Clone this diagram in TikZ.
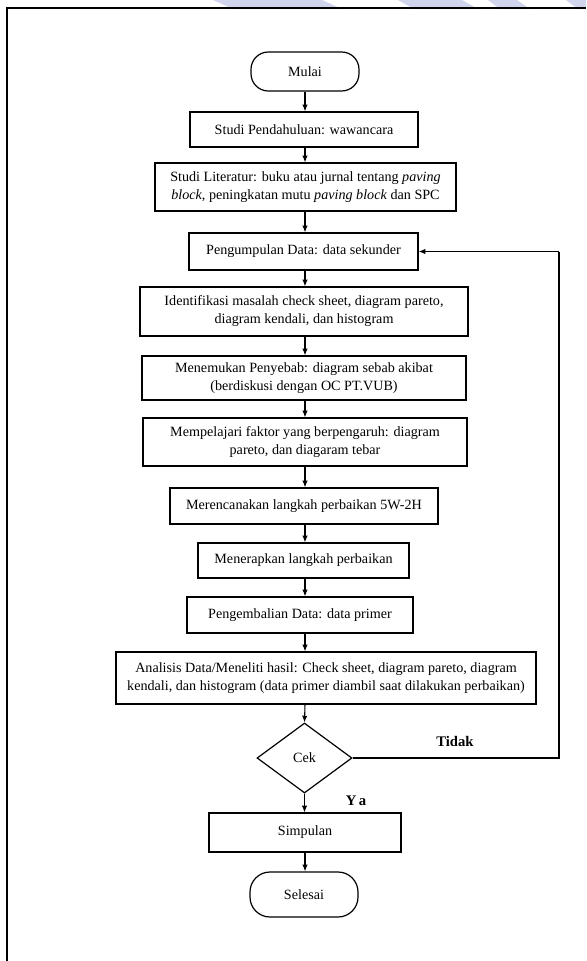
\documentclass[tikz,border=0pt]{standalone}
\usepackage{fontspec}
\setmainfont{Liberation Serif}
\usetikzlibrary{arrows.meta,shapes.geometric,calc}
\definecolor{wm}{RGB}{208,212,236}
\tikzset{
  box/.style={draw, line width=0.9pt, inner sep=0pt, align=center,
    font=\fontsize{10.6}{13.5}\selectfont},
  term/.style={box, rounded corners=13pt},
  decision/.style={draw, line width=0.9pt, diamond, inner sep=0pt,
    font=\fontsize{10.6}{13.5}\selectfont},
  arr/.style={line width=0.8pt, -{Latex[length=5pt,width=4pt]}},
  link/.style={line width=0.8pt},
  lbl/.style={font=\fontsize{11}{12}\selectfont\bfseries},
  frame/.style={line width=1.6pt}
}
\begin{document}
\begin{tikzpicture}[x=0.75pt,y=-0.75pt]
\useasboundingbox (0,0) rectangle (586,961);
% watermark fragments at the top edge
\fill[wm] (213,0) -- (322,0) -- (342,9) -- (233,9) -- cycle;
\fill[wm] (398,0) -- (462,0) -- (478,9) -- (414,9) -- cycle;
\fill[wm] (488,0) -- (517,0) -- (530,9) -- (500,9) -- cycle;
\fill[wm] (566,0) -- (586,0) -- (586,9) -- (578,9) -- cycle;
% frame
\draw[frame] (7,961) -- (7,8) -- (586,8);
\coordinate (ax) at (305,0);
% nodes
\node[term, minimum width=81pt, minimum height=29.25pt] (start) at (305,71.5) {Mulai};
\node[box, minimum width=171pt, minimum height=26.25pt] (a) at (304,129.5) {Studi Pendahuluan: wawancara};
\node[box, minimum width=225.75pt, minimum height=36pt] (b) at (305.5,187) {Studi Literatur: buku atau jurnal tentang \textit{paving}\\ \textit{block}, peningkatan mutu \textit{paving block} dan SPC};
\node[box, minimum width=171.75pt, minimum height=27.75pt] (c) at (303.5,251.5) {Pengumpulan Data: data sekunder};
\node[box, minimum width=246pt, minimum height=36.75pt] (d) at (304,311.5) {Identifikasi masalah check sheet, diagram pareto,\\ diagram kendali, dan histogram};
\node[box, minimum width=243pt, minimum height=33pt] (e) at (304,378) {Menemukan Penyebab: diagram sebab akibat\\ (berdiskusi dengan OC PT.VUB)};
\node[box, minimum width=243pt, minimum height=36pt] (f) at (305,442) {Mempelajari faktor yang berpengaruh: diagram\\ pareto, dan diagaram tebar};
\node[box, minimum width=201pt, minimum height=27pt] (g) at (304,506) {Merencanakan langkah perbaikan 5W-2H};
\node[box, minimum width=158.25pt, minimum height=26.25pt] (h) at (303.5,560.5) {Menerapkan langkah perbaikan};
\node[box, minimum width=169.5pt, minimum height=27pt] (i) at (300,615) {Pengembalian Data: data primer};
\node[box, minimum width=315pt, minimum height=39pt] (j) at (326,678) {Analisis Data/Meneliti hasil: Check sheet, diagram pareto, diagram\\ kendali, dan histogram (data primer diambil saat dilakukan perbaikan)};
\node[decision, minimum width=71.25pt, minimum height=52.5pt, aspect=1.36] (k) at (304.5,758) {Cek};
\node[box, minimum width=144pt, minimum height=29.25pt] (l) at (305,832.5) {Simpulan};
\node[term, minimum width=81pt, minimum height=33.75pt, rounded corners=15pt] (m) at (304,894.5) {Selesai};
% labels
\node[lbl] (tidak) at (455,741) {Tidak};
\node[lbl] (ya) at (356,801) {Y\,a};
% connectors
\draw[arr] (start.south -| ax) -- (a.north -| ax);
\draw[arr] (a.south -| ax) -- (b.north -| ax);
\draw[arr] (b.south -| ax) -- (c.north -| ax);
\draw[arr] (c.south -| ax) -- (d.north -| ax);
\draw[arr] (d.south -| ax) -- (e.north -| ax);
\draw[arr] (e.south -| ax) -- (f.north -| ax);
\draw[arr] (f.south -| ax) -- (g.north -| ax);
\draw[arr] (g.south -| ax) -- (h.north -| ax);
\draw[arr] (h.south -| ax) -- (i.north -| ax);
\draw[arr] (i.south -| ax) -- (ax |- j.north);
\draw[arr] (ax |- j.south) -- (k.north);
\draw[arr] (k.south) -- (k.south |- l.north);
\draw[arr] (l.south -| ax) -- (m.north -| ax);
% loop back
\coordinate (lb) at (559,758);
\coordinate (lt) at (559,251.5);
\draw[link] (k.east) -- (lb) -- (lt);
\draw[arr] (lt) -- (c.east);
\end{tikzpicture}
\end{document}
